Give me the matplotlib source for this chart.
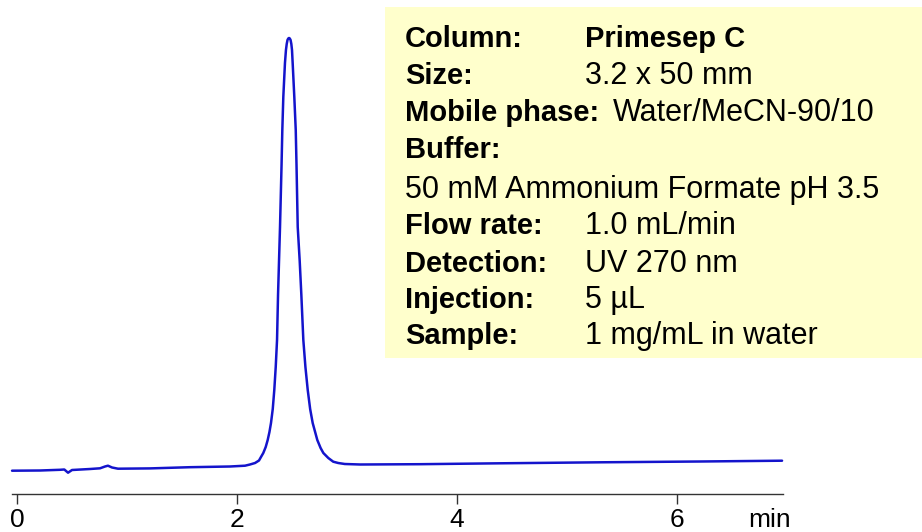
import matplotlib.pyplot as plt
from matplotlib.patches import Rectangle

# chromatogram trace (time in min, signal in mAU)
time_min = [-0.045, 0.21, 0.39, 0.43, 0.464, 0.50, 0.664, 0.755, 0.80, 0.827,
            0.864, 0.918, 1.21, 1.573, 1.936, 2.073, 2.118, 2.164, 2.20, 2.218,
            2.239, 2.261, 2.279, 2.295, 2.309, 2.325, 2.339, 2.352, 2.364, 2.373,
            2.391, 2.405, 2.412, 2.421, 2.436, 2.445, 2.452, 2.459, 2.466, 2.473,
            2.480, 2.487, 2.494, 2.500, 2.506, 2.521, 2.534, 2.541, 2.552, 2.570,
            2.585, 2.603, 2.622, 2.643, 2.665, 2.688, 2.73, 2.76, 2.785, 2.83,
            2.875, 2.92, 2.98, 3.12, 3.66, 4.39, 5.30, 6.21, 6.955]
signal = [0.3, 0.5, 1.2, 1.5, -1.7, 1.0, 2.0, 2.7, 4.5, 5.3,
          3.5, 2.3, 2.6, 3.8, 4.5, 5.3, 6.5, 8.0, 10.5, 14,
          18, 24, 31, 39, 48, 62, 81, 104, 131, 176,
          244, 306, 341, 374, 408, 421, 427, 431, 432.5, 433,
          432.5, 431, 427, 421, 408, 374, 341, 306, 244, 210,
          176, 131, 104, 81, 62, 48, 31, 23, 18, 13,
          9.3, 8.0, 7.0, 6.5, 6.8, 7.7, 8.7, 9.5, 10.3]

xticks = [0, 2, 4, 6]
xtick_labels = ["0", "2", "4", "6"]

labels = ["Column:", "Size:", "Mobile phase:", "Buffer:", "",
          "Flow rate:", "Detection:", "Injection:", "Sample:"]
values = ["Primesep C", "3.2 x 50 mm", "Water/MeCN-90/10", "", "",
          "1.0 mL/min", "UV 270 nm", "5 µL", "1 mg/mL in water"]
buffer_line = "50 mM Ammonium Formate pH 3.5"

plt.rcParams['font.family'] = ['Liberation Sans', 'DejaVu Sans']

W, H = 922, 532
fig = plt.figure(figsize=(W / 100, H / 100), dpi=100)
ax = fig.add_axes([0, (H - 494) / H, 1, 494 / H])
ax.plot(time_min, signal, color='#1414cc', linewidth=1.8,
        solid_joinstyle='round', solid_capstyle='round')

ax.set_xlim(-17 / 110, (W - 17) / 110)
ax.set_ylim(471 - 494, 471)

for s in ['top', 'left', 'right']:
    ax.spines[s].set_visible(False)
ax.spines['bottom'].set_bounds(-0.045, 6.96)
ax.spines['bottom'].set_color('#333333')
ax.spines['bottom'].set_linewidth(1.0)
ax.set_yticks([])
ax.set_xticks(xticks)
ax.set_xticklabels(xtick_labels)
ax.tick_params(axis='x', direction='out', length=7, width=1, color='#333333',
               pad=3, labelsize=19)
ax.annotate("min", xy=(6.845, 0), xycoords=('data', 'axes fraction'),
            xytext=(0, -10), textcoords='offset points',
            ha='center', va='top', fontsize=19)

# info box
fig.patches.append(Rectangle((385 / W, 1 - 358 / H), 1 - 385 / W, (358 - 7) / H,
                             transform=fig.transFigure, facecolor='#ffffcc',
                             edgecolor='none', zorder=0))
baselines = [46.7, 84, 120.7, 158, 198.3, 234, 271.7, 308.3, 344]
value_x = [585, 585, 613, 585, 585, 585, 585, 585, 585]
for i, (lab, val, yb) in enumerate(zip(labels, values, baselines)):
    if lab:
        fig.text(405 / W, 1 - yb / H, lab, fontsize=21, fontweight='bold', va='baseline')
    if val:
        if i == 0:
            fig.text(value_x[i] / W, 1 - yb / H, val, fontsize=21, va='baseline',
                     fontweight='bold')
        else:
            fig.text(value_x[i] / W, 1 - yb / H, val, fontsize=22, va='baseline')
fig.text(405 / W, 1 - baselines[4] / H, buffer_line, fontsize=22, va='baseline')

plt.savefig("out.png", dpi=100)
